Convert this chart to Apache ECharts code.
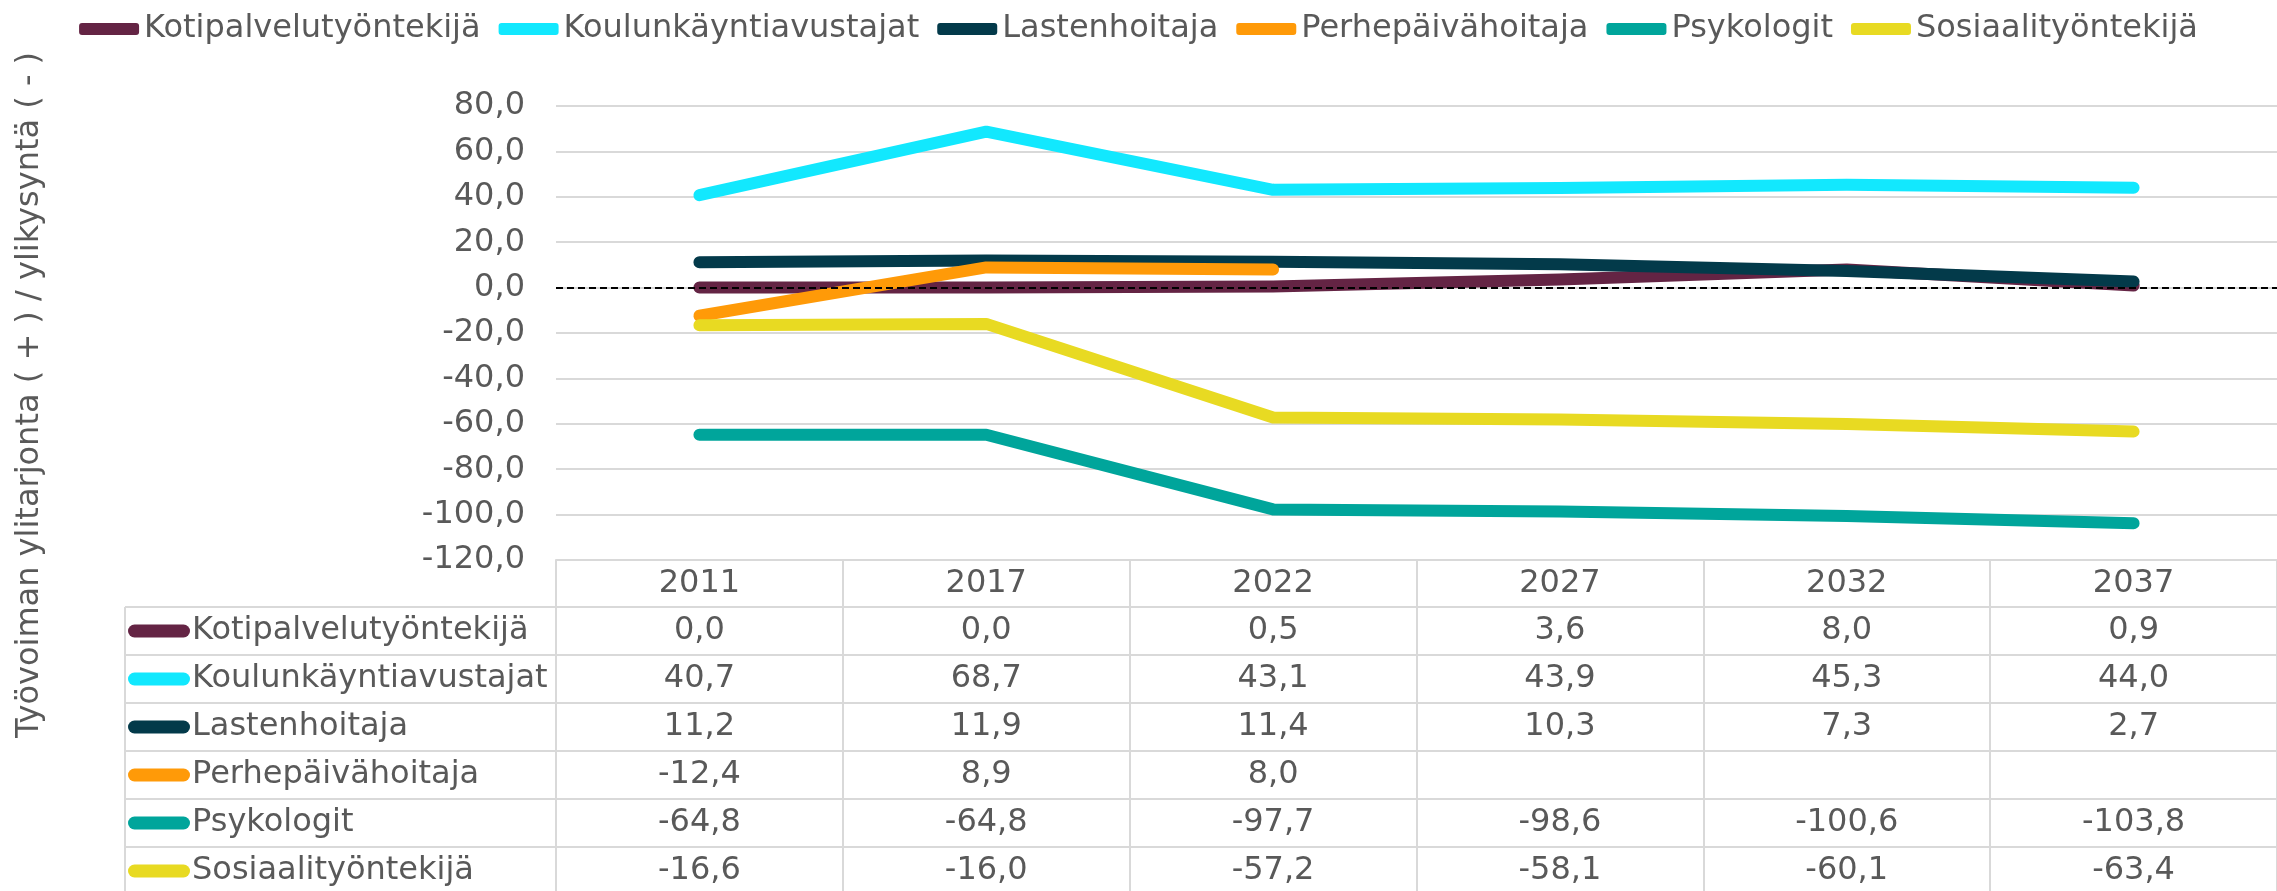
<!DOCTYPE html>
<html>
<head>
<meta charset="utf-8">
<script src="https://cdn.jsdelivr.net/npm/echarts@6/dist/echarts.min.js"></script>
<style>
html,body{margin:0;padding:0;background:#fff;}
#main{width:2277px;height:891px;}
</style>
</head>
<body>
<div id="main"></div>
<script>
// data
var years = ["2011", "2017", "2022", "2027", "2032", "2037"];
var names = ["Kotipalvelutyöntekijä", "Koulunkäyntiavustajat", "Lastenhoitaja", "Perhepäivähoitaja", "Psykologit", "Sosiaalityöntekijä"];
var colors = ["#642444", "#12E8FE", "#033A4A", "#FF9A08", "#00A59B", "#E8DA22"];

var koti = [0.0, 0.0, 0.5, 3.6, 8.0, 0.9];
var koulu = [40.7, 68.7, 43.1, 43.9, 45.3, 44.0];
var lasten = [11.2, 11.9, 11.4, 10.3, 7.3, 2.7];
var perhe = [-12.4, 8.9, 8.0, null, null, null];
var psyk = [-64.8, -64.8, -97.7, -98.6, -100.6, -103.8];
var sosi = [-16.6, -16.0, -57.2, -58.1, -60.1, -63.4];

var values = [koti, koulu, lasten, perhe, psyk, sosi];
var yName = "Työvoiman ylitarjonta ( + ) / ylikysyntä ( - )";

// layout
var font = "DejaVu Sans",
    textColor = "#595959",
    gridColor = "#d9d9d9",
    gridLeft = 556, gridTop = 106, gridWidth = 1735, gridHeight = 454,
    headH = 47, rowH = 48, tableLeft = 125;

function fmt(v){
    if(v === null || v === undefined) return "";
    return v.toFixed(1).replace(".", ",");
}

var myChart = echarts.init(document.getElementById("main"));

/********* axes *********/
var xAxes = [{
    type : "category",
    data : years,
    boundaryGap : true,
    position : "bottom",
    axisLine : {show : true, onZero : false, lineStyle : {color : gridColor, width : 2}},
    axisTick : {show : true, alignWithLabel : false, length : 340, lineStyle : {color : gridColor, width : 2}},
    axisLabel : {margin : 8, fontSize : 32, fontFamily : font, color : textColor}
}];

// table rows as extra axes under the chart
var rows = values.map(function(vals, i){
    return {
        type : "category",
        data : years,
        boundaryGap : true,
        position : "bottom",
        offset : headH + rowH * i,
        axisLine : {show : true, onZero : false, lineStyle : {color : gridColor, width : 2}},
        axisTick : {show : false},
        axisLabel : {
            margin : 8, fontSize : 32, fontFamily : font, color : textColor,
            formatter : function(value, idx){ return fmt(vals[idx]); }
        }
    };
});
xAxes = xAxes.concat(rows);

/********* series *********/
var series = names.map(function(name, i){
    return {
        name : name,
        type : "line",
        data : values[i],
        xAxisIndex : 0,
        symbol : "none",
        z : 3,
        lineStyle : {color : colors[i], width : 12, cap : "round", join : "round"},
        itemStyle : {color : colors[i]}
    };
});

// dashed zero line
series.push({
    name : "zero",
    type : "line",
    data : [],
    z : 1,
    markLine : {
        silent : true,
        symbol : "none",
        label : {show : false},
        lineStyle : {color : "#000", type : [7, 4], width : 2},
        data : [{yAxis : 0}]
    }
});

/********* left column of the table *********/
var graphic = [];
var tableTop = gridTop + gridHeight + headH;
graphic.push({
    type : "line", silent : true,
    shape : {x1 : tableLeft, y1 : tableTop, x2 : tableLeft, y2 : 900},
    style : {stroke : gridColor, lineWidth : 2}
});
names.forEach(function(name, i){
    var y = tableTop + rowH * i;
    graphic.push({
        type : "line", silent : true,
        shape : {x1 : tableLeft, y1 : y, x2 : gridLeft, y2 : y},
        style : {stroke : gridColor, lineWidth : 2}
    });
    graphic.push({
        type : "rect", silent : true,
        shape : {x : tableLeft + 3, y : y + rowH / 2 - 6.5, width : 62, height : 13, r : 6.5},
        style : {fill : colors[i]}
    });
    graphic.push({
        type : "text", silent : true,
        x : tableLeft + 67, y : y + rowH / 2,
        style : {text : name, fill : textColor, font : "32px " + font, verticalAlign : "middle", align : "left"}
    });
});
// y axis name
graphic.push({
    type : "text", silent : true,
    x : 30, y : 395, rotation : Math.PI / 2,
    style : {text : yName, fill : textColor, font : "32px " + font, align : "center", verticalAlign : "middle"}
});

var option = {
    animation : false,
    backgroundColor : "#fff",
    legend : {
        data : names,
        left : "center",
        top : 8,
        icon : "roundRect",
        itemWidth : 60,
        itemHeight : 12,
        itemGap : 18,
        textStyle : {fontSize : 32, fontFamily : font, color : textColor}
    },
    grid : {left : gridLeft, top : gridTop, width : gridWidth, height : gridHeight, containLabel : false},
    xAxis : xAxes,
    yAxis : {
        type : "value",
        min : -120,
        max : 80,
        interval : 20,
        axisLine : {show : false},
        axisTick : {show : false},
        splitLine : {lineStyle : {color : gridColor, width : 2}},
        axisLabel : {
            margin : 31, fontSize : 32, fontFamily : font, color : textColor,
            formatter : function(v){ return fmt(v); }
        }
    },
    graphic : graphic,
    series : series
};

myChart.setOption(option);
</script>
</body>
</html>
